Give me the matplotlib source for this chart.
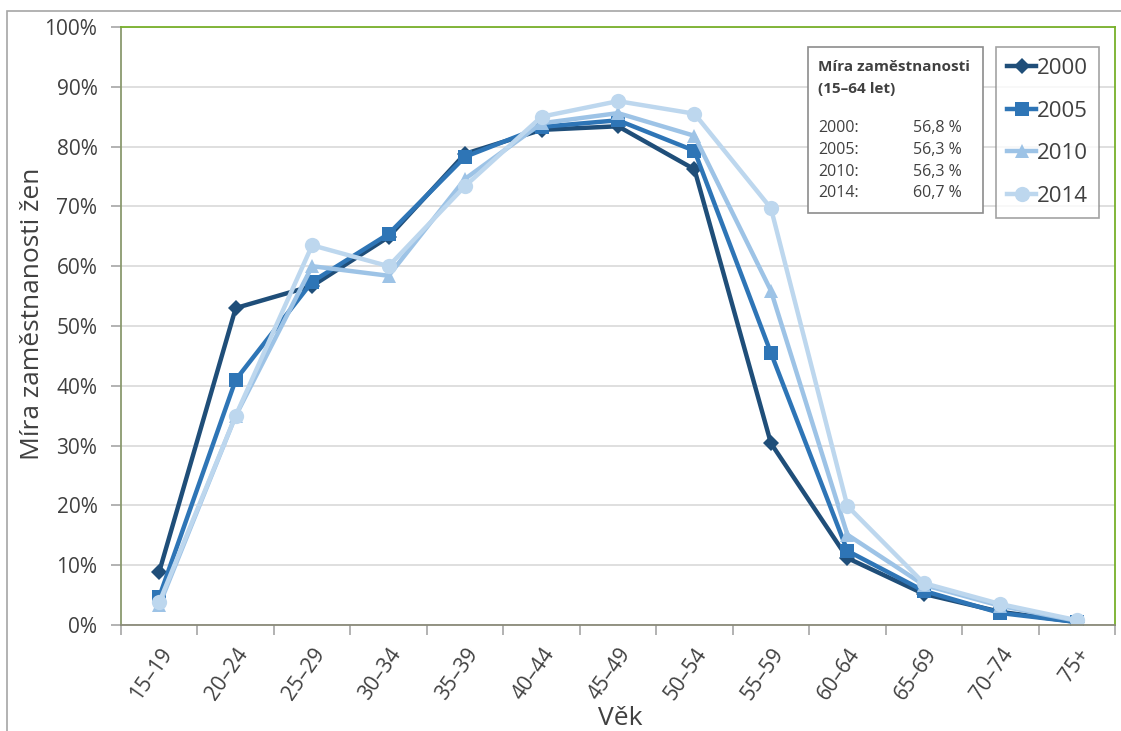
import matplotlib.pyplot as plt
from matplotlib.patches import Rectangle
from matplotlib.ticker import FixedLocator, FuncFormatter

plt.rcParams["font.family"] = ["Open Sans", "DejaVu Sans"]

age_groups = ["15–19", "20–24", "25–29", "30–34", "35–39", "40–44", "45–49",
              "50–54", "55–59", "60–64", "65–69", "70–74", "75+"]
rate_2000 = [8.9, 53.0, 56.7, 64.9, 78.8, 82.8, 83.4, 76.2, 30.4, 11.2, 5.2, 2.2, 0.5]
rate_2005 = [4.7, 41.0, 57.4, 65.4, 78.3, 83.3, 84.4, 79.3, 45.5, 12.4, 5.7, 2.0, 0.5]
rate_2010 = [3.3, 35.0, 60.0, 58.4, 74.6, 83.9, 85.6, 81.8, 55.9, 15.1, 6.7, 3.2, 0.7]
rate_2014 = [3.8, 35.0, 63.5, 60.0, 73.4, 85.0, 87.6, 85.5, 69.7, 19.9, 7.0, 3.5, 0.8]

years = ["2000", "2005", "2010", "2014"]
overall_rate = ["56,8 %", "56,3 %", "56,3 %", "60,7 %"]

series = [rate_2000, rate_2005, rate_2010, rate_2014]
colors = ["#1f4e79", "#2e75b6", "#9dc3e6", "#bdd7ee"]
markers = ["D", "s", "^", "o"]
msizes = [8, 10, 10, 11]

W, H = 1121, 731


def fx(px):
    return px / W


def fy(py):
    return 1 - py / H


fig = plt.figure(figsize=(W / 100, H / 100), dpi=100)
ax = fig.add_axes([fx(121), fy(625), fx(1115) - fx(121), fy(27) - fy(625)])

# outer chart border (left and top edges visible)
fig.patches.append(Rectangle((fx(7), fy(740)), 1.2, fy(11) - fy(740),
                             transform=fig.transFigure, fill=False,
                             edgecolor="#a6a6a6", linewidth=1.2))

x = range(len(age_groups))
for year, values, color, marker, ms in zip(years, series, colors, markers, msizes):
    ax.plot(x, values, color=color, linewidth=3.2, marker=marker,
            markersize=ms, markeredgewidth=0, label=year)

ax.set_xlim(-0.5, len(age_groups) - 0.5)
ax.set_ylim(0, 100)
ax.set_yticks(range(0, 101, 10))
ax.yaxis.set_major_formatter(FuncFormatter(lambda v, _: f"{v:.0f}%"))
ax.grid(axis="y", color="#d9d9d9", linewidth=1.2)
ax.set_axisbelow(True)

ax.set_xticks(list(x))
ax.set_xticklabels(age_groups, rotation=55, ha="right", rotation_mode="anchor",
                   fontsize=15, color="#404040")
ax.xaxis.set_minor_locator(FixedLocator([i - 0.5 for i in range(len(age_groups) + 1)]))
ax.tick_params(axis="x", which="major", length=0, pad=14)
ax.tick_params(axis="x", which="minor", length=7, color="#a6a6a6", width=1.2)
ax.tick_params(axis="y", length=7, color="#a6a6a6", width=1.2, labelsize=15,
               labelcolor="#404040", pad=10)

ax.spines["left"].set_color("#8a9a6e")
ax.spines["bottom"].set_color("#8a8a7a")
ax.spines["top"].set_color("#77b02a")
ax.spines["right"].set_color("#77b02a")
for s in ax.spines.values():
    s.set_linewidth(1.3)

ax.set_ylabel("Míra zaměstnanosti žen", fontsize=19, color="#404040")
ax.yaxis.set_label_coords(-0.076, 0.52)
ax.set_xlabel("Věk", fontsize=19, color="#404040", va="top")
ax.xaxis.set_label_coords(0.502, -0.135)

# info box
fig.patches.append(Rectangle((fx(808), fy(213)), fx(983) - fx(808), fy(47) - fy(213),
                             transform=fig.transFigure, facecolor="white",
                             edgecolor="#8c8c8c", linewidth=1.2, zorder=5))
fig.text(fx(818), fy(67), "Míra zaměstnanosti", fontsize=11, fontweight="bold",
         color="#404040", va="center", zorder=6)
fig.text(fx(818), fy(89), "(15–64 let)", fontsize=11, fontweight="bold",
         color="#404040", va="center", zorder=6)
for i, (year, rate) in enumerate(zip(years, overall_rate)):
    yy = fy(128 + i * 21.8)
    fig.text(fx(818), yy, f"{year}:", fontsize=11.5, color="#404040", va="center", zorder=6)
    fig.text(fx(962), yy, rate, fontsize=11.5, color="#404040", va="center",
             ha="right", zorder=6)

leg = ax.legend(loc="upper left", bbox_to_anchor=(fx(996), fy(47)),
                bbox_transform=fig.transFigure, fontsize=16, frameon=True,
                fancybox=False, edgecolor="#8c8c8c", handlelength=1.3,
                handletextpad=0.05, labelspacing=0.97, borderpad=0.5,
                borderaxespad=0, labelcolor="#404040")
leg.get_frame().set_linewidth(1.2)

fig.savefig("out.png", dpi=100)
